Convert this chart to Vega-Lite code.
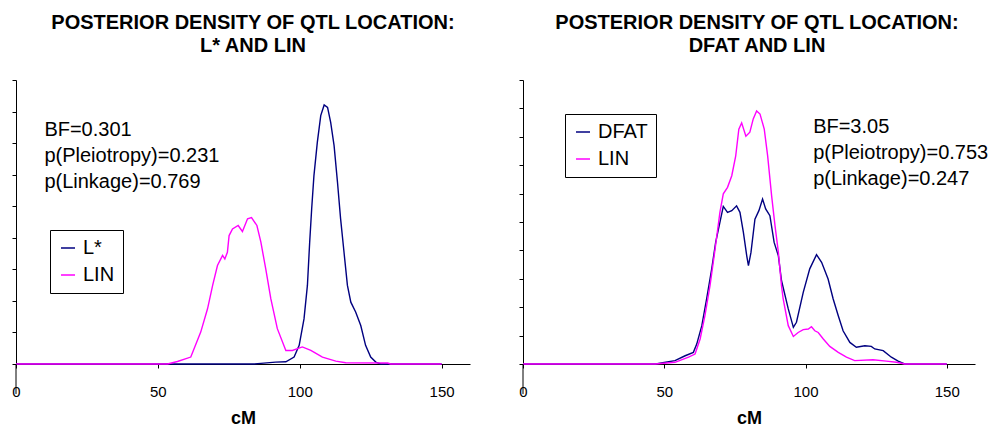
{
  "$schema": "https://vega.github.io/schema/vega-lite/v6.json",
  "padding": {"left": 11, "top": 12, "right": 0, "bottom": 0},
  "background": "white",
  "config": {
    "view": {"stroke": null},
    "font": "Liberation Sans",
    "axis": {"grid": false, "domainColor": "black", "tickColor": "black", "labelColor": "black", "titleColor": "black", "tickSize": 4, "domainWidth": 1, "tickWidth": 1, "tickCount": 30},
    "legend": {"orient": "none", "title": null, "strokeColor": "black", "fillColor": "white", "padding": 8, "labelFontSize": 20, "labelFont": "Liberation Sans", "labelColor": "black", "symbolType": "stroke", "symbolStrokeWidth": 1.5, "symbolSize": 196, "rowPadding": 7, "labelOffset": 5}
  },
  "datasets": {
    "left": [
      {"series": "L*", "cM": 0, "d": 0}, {"series": "L*", "cM": 84, "d": 0}, {"series": "L*", "cM": 86.3, "d": 0.0002}, {"series": "L*", "cM": 91.5, "d": 0.0006}, {"series": "L*", "cM": 95.1, "d": 0.0007}, {"series": "L*", "cM": 98, "d": 0.0022}, {"series": "L*", "cM": 99.8, "d": 0.0059}, {"series": "L*", "cM": 101.5, "d": 0.0143}, {"series": "L*", "cM": 102.7, "d": 0.0249}, {"series": "L*", "cM": 103.5, "d": 0.0386}, {"series": "L*", "cM": 104.2, "d": 0.0491}, {"series": "L*", "cM": 105, "d": 0.0597}, {"series": "L*", "cM": 106.2, "d": 0.0703}, {"series": "L*", "cM": 107.4, "d": 0.0787}, {"series": "L*", "cM": 108.6, "d": 0.0821}, {"series": "L*", "cM": 109.8, "d": 0.0813}, {"series": "L*", "cM": 110.9, "d": 0.0766}, {"series": "L*", "cM": 112.1, "d": 0.0692}, {"series": "L*", "cM": 113.3, "d": 0.0576}, {"series": "L*", "cM": 114.4, "d": 0.046}, {"series": "L*", "cM": 115.6, "d": 0.0354}, {"series": "L*", "cM": 116.8, "d": 0.0249}, {"series": "L*", "cM": 118, "d": 0.0196}, {"series": "L*", "cM": 119.7, "d": 0.0165}, {"series": "L*", "cM": 121.5, "d": 0.0122}, {"series": "L*", "cM": 123.2, "d": 0.0059}, {"series": "L*", "cM": 125, "d": 0.0022}, {"series": "L*", "cM": 126.8, "d": 0.0006}, {"series": "L*", "cM": 128.5, "d": 0}, {"series": "L*", "cM": 150, "d": 0},
      {"series": "LIN", "cM": 0, "d": 0}, {"series": "LIN", "cM": 53.4, "d": 0}, {"series": "LIN", "cM": 56.9, "d": 0.0008}, {"series": "LIN", "cM": 61.6, "d": 0.0022}, {"series": "LIN", "cM": 65.1, "d": 0.0101}, {"series": "LIN", "cM": 67.5, "d": 0.0175}, {"series": "LIN", "cM": 69.3, "d": 0.0249}, {"series": "LIN", "cM": 71, "d": 0.0312}, {"series": "LIN", "cM": 72.8, "d": 0.0344}, {"series": "LIN", "cM": 73.6, "d": 0.0333}, {"series": "LIN", "cM": 74.5, "d": 0.0354}, {"series": "LIN", "cM": 75.1, "d": 0.0407}, {"series": "LIN", "cM": 76.3, "d": 0.0428}, {"series": "LIN", "cM": 78.3, "d": 0.0439}, {"series": "LIN", "cM": 79.8, "d": 0.042}, {"series": "LIN", "cM": 81.6, "d": 0.046}, {"series": "LIN", "cM": 83, "d": 0.0464}, {"series": "LIN", "cM": 84.9, "d": 0.0439}, {"series": "LIN", "cM": 86.3, "d": 0.0386}, {"series": "LIN", "cM": 88, "d": 0.0302}, {"series": "LIN", "cM": 89.8, "d": 0.0207}, {"series": "LIN", "cM": 92.1, "d": 0.0112}, {"series": "LIN", "cM": 95.1, "d": 0.0043}, {"series": "LIN", "cM": 97.4, "d": 0.0043}, {"series": "LIN", "cM": 100.9, "d": 0.0054}, {"series": "LIN", "cM": 103.9, "d": 0.0043}, {"series": "LIN", "cM": 108, "d": 0.0022}, {"series": "LIN", "cM": 112.7, "d": 0.0009}, {"series": "LIN", "cM": 116.2, "d": 0.0004}, {"series": "LIN", "cM": 131, "d": 0.0003}, {"series": "LIN", "cM": 132, "d": 0}, {"series": "LIN", "cM": 150, "d": 0}
    ],
    "right": [
      {"series": "DFAT", "cM": 0, "d": 0}, {"series": "DFAT", "cM": 47, "d": 0}, {"series": "DFAT", "cM": 50.5, "d": 0.0003}, {"series": "DFAT", "cM": 53.8, "d": 0.0006}, {"series": "DFAT", "cM": 57.4, "d": 0.00145}, {"series": "DFAT", "cM": 60.3, "d": 0.00205}, {"series": "DFAT", "cM": 61.5, "d": 0.0035}, {"series": "DFAT", "cM": 63.3, "d": 0.00675}, {"series": "DFAT", "cM": 65, "d": 0.01145}, {"series": "DFAT", "cM": 66.8, "d": 0.01675}, {"series": "DFAT", "cM": 68.2, "d": 0.0214}, {"series": "DFAT", "cM": 69.7, "d": 0.02495}, {"series": "DFAT", "cM": 70.9, "d": 0.02775}, {"series": "DFAT", "cM": 72.4, "d": 0.0267}, {"series": "DFAT", "cM": 73.9, "d": 0.027}, {"series": "DFAT", "cM": 75.6, "d": 0.02785}, {"series": "DFAT", "cM": 76.8, "d": 0.0267}, {"series": "DFAT", "cM": 78, "d": 0.0232}, {"series": "DFAT", "cM": 79.2, "d": 0.01905}, {"series": "DFAT", "cM": 79.8, "d": 0.0173}, {"series": "DFAT", "cM": 80.7, "d": 0.01965}, {"series": "DFAT", "cM": 82.1, "d": 0.0255}, {"series": "DFAT", "cM": 83.5, "d": 0.027}, {"series": "DFAT", "cM": 84.8, "d": 0.02905}, {"series": "DFAT", "cM": 85.9, "d": 0.0273}, {"series": "DFAT", "cM": 87.4, "d": 0.0261}, {"series": "DFAT", "cM": 88.9, "d": 0.0214}, {"series": "DFAT", "cM": 90.4, "d": 0.01905}, {"series": "DFAT", "cM": 91.5, "d": 0.0147}, {"series": "DFAT", "cM": 93.9, "d": 0.0097}, {"series": "DFAT", "cM": 95.7, "d": 0.00645}, {"series": "DFAT", "cM": 96.8, "d": 0.00735}, {"series": "DFAT", "cM": 99.2, "d": 0.0126}, {"series": "DFAT", "cM": 101.5, "d": 0.01675}, {"series": "DFAT", "cM": 103.9, "d": 0.01925}, {"series": "DFAT", "cM": 105.7, "d": 0.0179}, {"series": "DFAT", "cM": 108, "d": 0.01495}, {"series": "DFAT", "cM": 109.8, "d": 0.01145}, {"series": "DFAT", "cM": 111.6, "d": 0.0085}, {"series": "DFAT", "cM": 113.3, "d": 0.00585}, {"series": "DFAT", "cM": 115.7, "d": 0.0038}, {"series": "DFAT", "cM": 118, "d": 0.00295}, {"series": "DFAT", "cM": 121, "d": 0.0032}, {"series": "DFAT", "cM": 123.3, "d": 0.0031}, {"series": "DFAT", "cM": 124.5, "d": 0.00265}, {"series": "DFAT", "cM": 127.5, "d": 0.00235}, {"series": "DFAT", "cM": 130.4, "d": 0.0012}, {"series": "DFAT", "cM": 132.8, "d": 0.0005}, {"series": "DFAT", "cM": 135.1, "d": 0}, {"series": "DFAT", "cM": 150, "d": 0},
      {"series": "LIN", "cM": 0, "d": 0}, {"series": "LIN", "cM": 46.8, "d": 0}, {"series": "LIN", "cM": 53.8, "d": 0.0003}, {"series": "LIN", "cM": 58.6, "d": 0.0012}, {"series": "LIN", "cM": 60.9, "d": 0.00175}, {"series": "LIN", "cM": 62.7, "d": 0.0044}, {"series": "LIN", "cM": 64.4, "d": 0.0085}, {"series": "LIN", "cM": 66.2, "d": 0.0138}, {"series": "LIN", "cM": 68, "d": 0.02025}, {"series": "LIN", "cM": 69.7, "d": 0.0267}, {"series": "LIN", "cM": 70.9, "d": 0.02995}, {"series": "LIN", "cM": 72.4, "d": 0.0311}, {"series": "LIN", "cM": 73.9, "d": 0.03315}, {"series": "LIN", "cM": 75.3, "d": 0.03665}, {"series": "LIN", "cM": 76.4, "d": 0.04135}, {"series": "LIN", "cM": 77.4, "d": 0.04245}, {"series": "LIN", "cM": 78.9, "d": 0.0401}, {"series": "LIN", "cM": 80.3, "d": 0.0408}, {"series": "LIN", "cM": 81.5, "d": 0.04315}, {"series": "LIN", "cM": 82.7, "d": 0.04455}, {"series": "LIN", "cM": 83.9, "d": 0.044}, {"series": "LIN", "cM": 85.4, "d": 0.04135}, {"series": "LIN", "cM": 86.6, "d": 0.03665}, {"series": "LIN", "cM": 88, "d": 0.02965}, {"series": "LIN", "cM": 89.2, "d": 0.02435}, {"series": "LIN", "cM": 90.4, "d": 0.01965}, {"series": "LIN", "cM": 91.5, "d": 0.0138}, {"series": "LIN", "cM": 92.1, "d": 0.01145}, {"series": "LIN", "cM": 93.9, "d": 0.00675}, {"series": "LIN", "cM": 95.7, "d": 0.00485}, {"series": "LIN", "cM": 97.4, "d": 0.00555}, {"series": "LIN", "cM": 99.2, "d": 0.00605}, {"series": "LIN", "cM": 101, "d": 0.00615}, {"series": "LIN", "cM": 102.1, "d": 0.00655}, {"series": "LIN", "cM": 103.3, "d": 0.00585}, {"series": "LIN", "cM": 104.5, "d": 0.00555}, {"series": "LIN", "cM": 106.3, "d": 0.0044}, {"series": "LIN", "cM": 108.6, "d": 0.0031}, {"series": "LIN", "cM": 111.6, "d": 0.00205}, {"series": "LIN", "cM": 114.5, "d": 0.0012}, {"series": "LIN", "cM": 117.4, "d": 0.0006}, {"series": "LIN", "cM": 123.9, "d": 0.00075}, {"series": "LIN", "cM": 128.6, "d": 0.0005}, {"series": "LIN", "cM": 132.2, "d": 0.0003}, {"series": "LIN", "cM": 135.1, "d": 0}, {"series": "LIN", "cM": 150, "d": 0}
    ]
  },
  "spacing": 48,
  "hconcat": [
    {
      "width": 454,
      "height": 284,
      "title": {"text": ["POSTERIOR DENSITY OF QTL LOCATION:", "L* AND LIN"], "fontSize": 20, "font": "Liberation Sans", "fontWeight": "bold", "color": "black", "lineHeight": 23, "anchor": "middle", "frame": "group", "dx": 10, "offset": 24},
      "layer": [
        {
          "data": {"name": "left"},
          "mark": {"type": "line", "strokeWidth": 1.4},
          "encoding": {
            "x": {"field": "cM", "type": "quantitative", "scale": {"domain": [0, 160], "nice": false, "zero": false},
                  "axis": {"values": [0, 50, 100, 150], "labelFontSize": 15, "labelPadding": 16, "labelFlush": false, "title": "cM", "titleFontSize": 18, "titleFontWeight": "bold", "titlePadding": 10}},
            "y": {"field": "d", "type": "quantitative", "scale": {"domain": [0, 0.09], "nice": false},
                  "axis": {"values": [0, 0.01, 0.02, 0.03, 0.04, 0.05, 0.06, 0.07, 0.08, 0.09], "tickCount": 30, "labels": false, "title": null}},
            "color": {"field": "series", "type": "nominal", "scale": {"domain": ["L*", "LIN"], "range": ["#000080", "#FF00FF"]},
                      "legend": {"legendX": 34, "legendY": 150}}
          }
        },
        {
          "data": {"values": [{}]},
          "mark": {"type": "rule", "color": "black", "strokeWidth": 1},
          "encoding": {"x": {"datum": 0}, "y": {"datum": 0}, "y2": {"datum": -0.0095}}
        },
        {
          "data": {"values": [{}]},
          "mark": {"type": "text", "text": ["BF=0.301", "p(Pleiotropy)=0.231", "p(Linkage)=0.769"], "align": "left", "baseline": "alphabetic", "fontSize": 20, "lineHeight": 26, "color": "black", "font": "Liberation Sans"},
          "encoding": {"x": {"datum": 10}, "y": {"datum": 0.0722}}
        }
      ]
    },
    {
      "width": 452,
      "height": 284,
      "title": {"text": ["POSTERIOR DENSITY OF QTL LOCATION:", "DFAT AND LIN"], "fontSize": 20, "font": "Liberation Sans", "fontWeight": "bold", "color": "black", "lineHeight": 23, "anchor": "middle", "frame": "group", "dx": 8, "offset": 24},
      "layer": [
        {
          "data": {"name": "right"},
          "mark": {"type": "line", "strokeWidth": 1.4},
          "encoding": {
            "x": {"field": "cM", "type": "quantitative", "scale": {"domain": [0, 160], "nice": false, "zero": false},
                  "axis": {"values": [0, 50, 100, 150], "labelFontSize": 15, "labelPadding": 16, "labelFlush": false, "title": "cM", "titleFontSize": 18, "titleFontWeight": "bold", "titlePadding": 10}},
            "y": {"field": "d", "type": "quantitative", "scale": {"domain": [0, 0.05], "nice": false},
                  "axis": {"values": [0, 0.005, 0.01, 0.015, 0.02, 0.025, 0.03, 0.035, 0.04, 0.045, 0.05], "tickCount": 30, "labels": false, "title": null}},
            "color": {"field": "series", "type": "nominal", "scale": {"domain": ["DFAT", "LIN"], "range": ["#000080", "#FF00FF"]},
                      "legend": {"legendX": 42, "legendY": 34}}
          }
        },
        {
          "data": {"values": [{}]},
          "mark": {"type": "rule", "color": "black", "strokeWidth": 1},
          "encoding": {"x": {"datum": 0}, "y": {"datum": 0}, "y2": {"datum": -0.0053}}
        },
        {
          "data": {"values": [{}]},
          "mark": {"type": "text", "text": ["BF=3.05", "p(Pleiotropy)=0.753", "p(Linkage)=0.247"], "align": "left", "baseline": "alphabetic", "fontSize": 20, "lineHeight": 26, "color": "black", "font": "Liberation Sans"},
          "encoding": {"x": {"datum": 102.7}, "y": {"datum": 0.0407}}
        }
      ]
    }
  ],
  "resolve": {"scale": {"color": "independent", "x": "independent", "y": "independent"}, "legend": {"color": "independent"}}
}
